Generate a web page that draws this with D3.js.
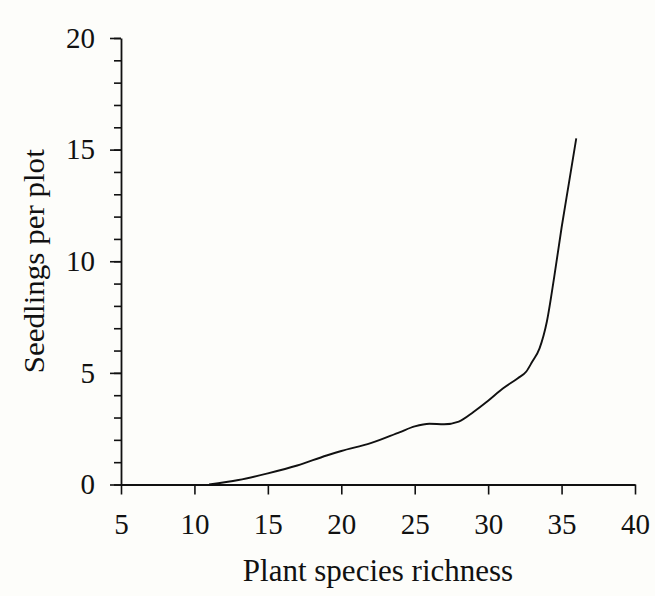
<!DOCTYPE html>
<html>
<head>
<meta charset="utf-8">
<script src="https://cdn.jsdelivr.net/npm/d3@7"></script>
<style>
  body { margin: 0; background: #fdfdfa; }
  text { font-family: "Liberation Serif", "Times New Roman", serif; fill: #111; }
</style>
</head>
<body>
<div id="chart"></div>
<script>
const FWIDTH = 655, FHEIGHT = 596;
const MARGIN = { LEFT: 121, RIGHT: 20, TOP: 38, BOTTOM: 112 };
const WIDTH = 635 - MARGIN.LEFT;
const HEIGHT = 484.5 - MARGIN.TOP;

// curve
const richness = [11, 13, 15, 17, 19, 20, 22, 24, 25, 26, 27, 28, 29, 30, 31, 32, 32.6, 33, 33.5, 34, 34.5, 35, 35.5, 36];
const seedlings = [0, 0.2, 0.5, 0.85, 1.3, 1.5, 1.85, 2.35, 2.6, 2.72, 2.7, 2.82, 3.25, 3.75, 4.3, 4.75, 5.06, 5.5, 6.1, 7.3, 9.3, 11.5, 13.5, 15.5];
const xTicks = [5, 10, 15, 20, 25, 30, 35, 40];
const yTicks = [0, 5, 10, 15, 20];
const yMinor = d3.range(0, 21, 1);

const svg = d3.select("#chart")
	.append("svg")
	.attr("width", FWIDTH)
	.attr("height", FHEIGHT)
	.style("background", "#fdfdfa");

const g = svg.append("g")
	.attr("transform", `translate(${MARGIN.LEFT}, ${MARGIN.TOP})`);

const x = d3.scaleLinear().domain([5, 40]).range([0, WIDTH]);
const y = d3.scaleLinear().domain([0, 20]).range([HEIGHT, 0]);

// minor ticks on y
g.append("g")
	.call(d3.axisLeft(y).tickValues(yMinor).tickSize(7).tickFormat(""))
	.call(a => a.select(".domain").remove())
	.selectAll("line").attr("stroke", "#111").attr("stroke-width", 1.6);

const yAxis = g.append("g")
	.call(d3.axisLeft(y).tickValues(yTicks).tickSize(11).tickSizeOuter(0).tickPadding(15));
yAxis.select(".domain").attr("stroke", "#111").attr("stroke-width", 1.8);
yAxis.selectAll("line").attr("stroke", "#111").attr("stroke-width", 1.6);
yAxis.selectAll("text").style("font-size", "29px").style("font-family", "Liberation Serif");

const xAxis = g.append("g")
	.attr("transform", `translate(0, ${HEIGHT})`)
	.call(d3.axisBottom(x).tickValues(xTicks).tickSize(10).tickSizeOuter(0).tickPadding(19));
xAxis.select(".domain").attr("stroke", "#111").attr("stroke-width", 1.8);
xAxis.selectAll("line").attr("stroke", "#111").attr("stroke-width", 1.6);
xAxis.selectAll("text").style("font-size", "29px").style("font-family", "Liberation Serif");

const line = d3.line()
	.x((d, i) => x(richness[i]))
	.y(d => y(d))
	.curve(d3.curveMonotoneX);

g.append("path")
	.datum(seedlings)
	.attr("fill", "none")
	.attr("stroke", "#111")
	.attr("stroke-width", 1.9)
	.attr("d", line);

g.append("text")
	.attr("x", WIDTH / 2)
	.attr("y", 581 - MARGIN.TOP)
	.attr("text-anchor", "middle")
	.style("font-size", "31px")
	.text("Plant species richness");

g.append("text")
	.attr("transform", `translate(${-77.5}, ${HEIGHT / 2}) rotate(-90)`)
	.attr("text-anchor", "middle")
	.attr("textLength", 224)
	.attr("lengthAdjust", "spacingAndGlyphs")
	.style("font-size", "30px")
	.text("Seedlings per plot");
</script>
</body>
</html>
